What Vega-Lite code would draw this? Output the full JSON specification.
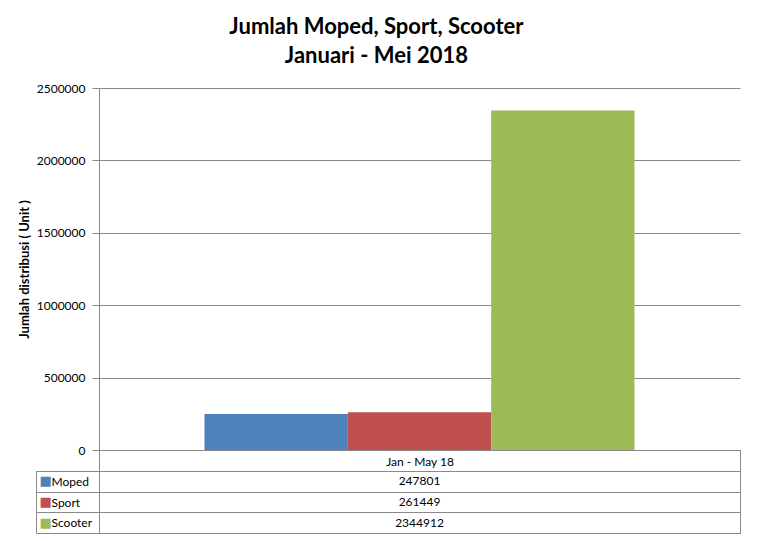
{
  "$schema": "https://vega.github.io/schema/vega-lite/v6.json",
  "description": "Jumlah Moped, Sport, Scooter Januari - Mei 2018",
  "background": "white",
  "padding": {"left": 18, "top": 16, "right": 17, "bottom": 9},
  "title": {
    "text": ["Jumlah Moped, Sport, Scooter", "Januari - Mei 2018"],
    "font": "Lato",
    "fontSize": 22,
    "fontWeight": "bold",
    "color": "black",
    "lineHeight": 29,
    "anchor": "middle",
    "offset": 14,
    "dx": -3
  },
  "data": {
    "values": [
      {"period": "Jan - May 18", "series": "Moped", "value": 247801},
      {"period": "Jan - May 18", "series": "Sport", "value": 261449},
      {"period": "Jan - May 18", "series": "Scooter", "value": 2344912}
    ]
  },
  "bounds": "flush",
  "spacing": 21,
  "vconcat": [
    {
      "width": 641,
      "height": 362,
      "view": {"stroke": null},
      "mark": {"type": "bar"},
      "encoding": {
        "x": {
          "field": "period",
          "type": "nominal",
          "scale": {"paddingInner": 0, "paddingOuter": 0},
          "axis": {
            "title": null,
            "labelAngle": 0,
            "labelFont": "Lato",
            "labelFontSize": 12,
            "labelColor": "black",
            "labelBaseline": "middle",
            "labelPadding": -10,
            "tickBand": "extent",
            "tickSize": 21,
            "tickColor": "#898989",
            "domainColor": "#898989"
          }
        },
        "xOffset": {
          "field": "series",
          "type": "nominal",
          "sort": ["Moped", "Sport", "Scooter"],
          "scale": {"paddingInner": 0, "paddingOuter": 0.736}
        },
        "y": {
          "field": "value",
          "type": "quantitative",
          "scale": {"domain": [0, 2500000]},
          "axis": {
            "title": "Jumlah distribusi  ( Unit )",
            "titleFont": "Lato",
            "titleFontSize": 13,
            "titleFontWeight": "bold",
            "titleColor": "black",
            "titlePadding": 5,
            "values": [0, 500000, 1000000, 1500000, 2000000, 2500000],
            "format": "d",
            "labelFont": "Lato",
            "labelFontSize": 12,
            "labelColor": "black",
            "labelPadding": 7,
            "tickSize": 7,
            "tickColor": "#898989",
            "domainColor": "#898989",
            "gridColor": "#898989"
          }
        },
        "color": {
          "field": "series",
          "type": "nominal",
          "sort": ["Moped", "Sport", "Scooter"],
          "scale": {
            "domain": ["Moped", "Sport", "Scooter"],
            "range": ["#4F81BD", "#C0504D", "#9BBB59"]
          },
          "legend": null
        }
      }
    },
    {
      "width": 641,
      "height": 62,
      "view": {"stroke": "#898989"},
      "resolve": {"axis": {"y": "independent"}},
      "layer": [
        {
          "mark": {"type": "text", "font": "Lato", "fontSize": 12, "color": "black"},
          "encoding": {
            "x": {"field": "period", "type": "nominal", "axis": null},
            "y": {
              "field": "series",
              "type": "nominal",
              "sort": ["Moped", "Sport", "Scooter"],
              "scale": {"paddingInner": 0, "paddingOuter": 0},
              "axis": {
                "orient": "left",
                "title": null,
                "domain": false,
                "grid": true,
                "gridColor": "#898989",
                "tickBand": "extent",
                "tickSize": 63,
                "tickColor": "#898989",
                "labelAlign": "left",
                "labelPadding": -15,
                "labelFont": "Lato",
                "labelFontSize": 12,
                "labelColor": "black"
              }
            },
            "text": {"field": "value", "type": "quantitative", "format": "d"}
          }
        },
        {
          "mark": {"type": "point", "opacity": 0},
          "encoding": {
            "x": {"field": "period", "type": "nominal", "axis": null},
            "y": {
              "field": "series",
              "type": "nominal",
              "sort": ["Moped", "Sport", "Scooter"],
              "axis": {
                "orient": "left",
                "offset": 63,
                "title": null,
                "grid": false,
                "ticks": false,
                "tickSize": 0,
                "domain": true,
                "domainColor": "#898989",
                "labelExpr": "'■'",
                "labelAlign": "left",
                "labelPadding": -3,
                "labelFont": "DejaVu Sans",
                "labelFontSize": 13,
                "labelColor": {
                  "condition": [
                    {"test": "datum.value === 'Moped'", "value": "#4F81BD"},
                    {"test": "datum.value === 'Sport'", "value": "#C0504D"}
                  ],
                  "value": "#9BBB59"
                }
              }
            }
          }
        }
      ]
    }
  ]
}
